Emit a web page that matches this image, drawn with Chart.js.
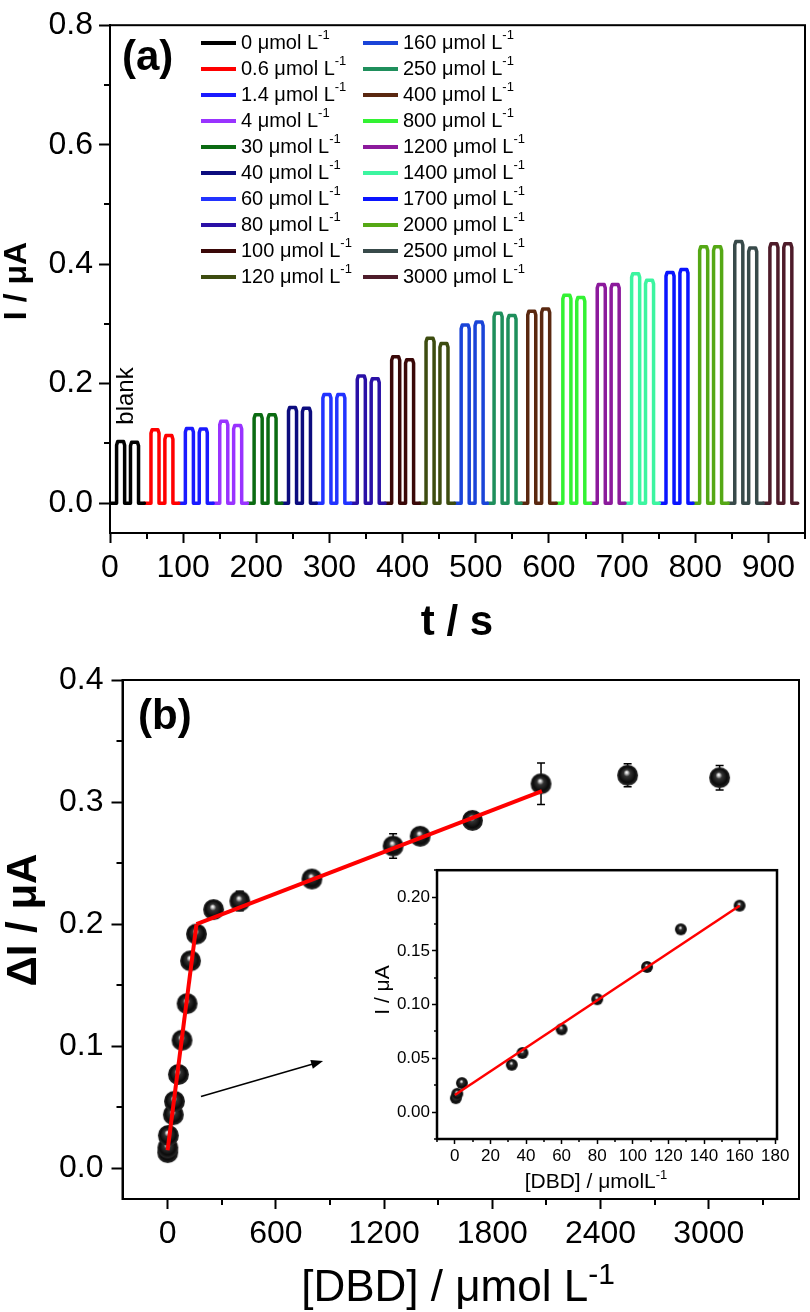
<!DOCTYPE html>
<html>
<head>
<meta charset="utf-8">
<script src="https://cdn.jsdelivr.net/npm/chart.js@4.4.1/dist/chart.umd.min.js"></script>
<style>
  body { margin: 0; background: #fff; }
  #wrap { position: relative; width: 810px; height: 1312px; }
  canvas { position: absolute; }
</style>
</head>
<body>
<div id="wrap">
  <canvas id="chart_a" width="810" height="650" style="left:0;top:0"></canvas>
  <canvas id="chart_b" width="810" height="662" style="left:0;top:650px"></canvas>
  <canvas id="chart_inset" width="425" height="345" style="left:370px;top:858px"></canvas>
</div>
<script>
"use strict";
const FONT = "'Liberation Sans', Arial, sans-serif";

// ---- (a) amperometric trace ----
const concLabels = ["0", "0.6", "1.4", "4", "30", "40", "60", "80", "100", "120",
  "160", "250", "400", "800", "1200", "1400", "1700", "2000", "2500", "3000"];
const traceColors = ["#000000", "#ff0000", "#1a1aff", "#9933ff", "#0b6b12", "#0c0c7e",
  "#2233ff", "#2a10a6", "#3a0808", "#3d4c10", "#1a44d8", "#1f8f5c", "#5a2810",
  "#33f233", "#8c1a9c", "#3cf5a0", "#0a14ff", "#55a815", "#384a4a", "#4e1c2a"];
const segStart = [0, 47, 94, 141, 188, 235, 282, 329, 376, 423,
  471, 516, 562, 610, 657, 704, 751, 797, 845, 893];
const traceEnd = 940;
const pulseEdges = [9, 20, 28, 39]; // s after segment start: on, off, on, off
const peak1 = [0.103, 0.123, 0.125, 0.137, 0.148, 0.160, 0.182, 0.213, 0.245, 0.276,
  0.298, 0.318, 0.321, 0.348, 0.366, 0.384, 0.386, 0.429, 0.438, 0.434];
const peak2 = [0.102, 0.113, 0.124, 0.130, 0.148, 0.159, 0.182, 0.208, 0.240, 0.267,
  0.303, 0.314, 0.325, 0.344, 0.366, 0.373, 0.391, 0.429, 0.427, 0.434];
const aXTicks = [0, 100, 200, 300, 400, 500, 600, 700, 800, 900];
const aYTicks = [0, 0.2, 0.4, 0.6, 0.8];

// ---- (b) calibration ----
const bConc = [0.6, 1.4, 4, 32, 38, 60, 80, 108, 127, 160, 255, 400, 800, 1250, 1400, 1690, 2070, 2550, 3060];
const bDeltaI = [0.013, 0.017, 0.027, 0.044, 0.055, 0.077, 0.105, 0.135, 0.170, 0.192,
  0.212, 0.219, 0.237, 0.264, 0.272, 0.285, 0.315, 0.322, 0.320];
const bErr = [0.003, 0.002, 0.002, 0.002, 0.002, 0.003, 0.003, 0.003, 0.003, 0.003,
  0.004, 0.008, 0.004, 0.010, 0.004, 0.004, 0.017, 0.0095, 0.010];
const fitLowX = [0, 160];
const fitLowY = [0.015, 0.200];
const fitHighX = [160, 2075];
const fitHighY = [0.200, 0.309];
const bXTicks = [0, 600, 1200, 1800, 2400, 3000];
const bYTicks = [0, 0.1, 0.2, 0.3, 0.4];
const arrowFrom = [185, 0.059];
const arrowTo = [862, 0.088];

// ---- inset ----
const insetCount = 10;
const insetFitX = [0, 160];
const insetFitY = [0.016, 0.192];
const iXTicks = [0, 20, 40, 60, 80, 100, 120, 140, 160, 180];
const iYTicks = [0, 0.05, 0.10, 0.15, 0.20];

function xy(xs, ys) {
  return xs.map((x, i) => ({ x: x, y: ys[i] }));
}

// one square-ish pulse: rise, rounded top, fall
function pulse(on, off, p) {
  return [
    { x: on, y: 0 }, { x: on, y: p - 0.006 }, { x: on + 1.5, y: p },
    { x: off - 1.5, y: p }, { x: off, y: p - 0.006 }, { x: off, y: 0 }
  ];
}

function tracePoints(i) {
  const s = segStart[i];
  const e = i + 1 < segStart.length ? segStart[i + 1] : traceEnd;
  return [{ x: s, y: 0 }]
    .concat(pulse(s + pulseEdges[0], s + pulseEdges[1], peak1[i]))
    .concat(pulse(s + pulseEdges[2], s + pulseEdges[3], peak2[i]))
    .concat([{ x: e, y: 0 }]);
}

function sphere(r) {
  const c = document.createElement("canvas");
  const d = Math.ceil(2 * r + 2);
  c.width = c.height = d;
  const g = c.getContext("2d");
  const cx = d / 2, cy = d / 2;
  const grad = g.createRadialGradient(cx - r * 0.1, cy - r * 0.3, 0, cx, cy, r);
  grad.addColorStop(0, "#ffffff");
  grad.addColorStop(0.12, "#d0d0d0");
  grad.addColorStop(0.32, "#333333");
  grad.addColorStop(0.75, "#0a0a0a");
  grad.addColorStop(1, "#2c2c2c");
  g.fillStyle = grad;
  g.beginPath();
  g.arc(cx, cy, r, 0, Math.PI * 2);
  g.fill();
  return c;
}

function axis(min, max, ticks, digits, size, tickLen, pad, tickW, fit) {
  return {
    type: "linear", min: min, max: max,
    afterBuildTicks: s => { s.ticks = ticks.map(v => ({ value: v })); },
    afterFit: fit,
    border: { display: true, color: "#000", width: tickW },
    grid: { display: true, drawOnChartArea: false, drawTicks: true, tickLength: tickLen, tickWidth: tickW, tickColor: "#000", color: "#000" },
    ticks: { color: "#000", font: { family: FONT, size: size }, padding: pad, maxRotation: 0, autoSkip: false,
      callback: v => Number(v).toFixed(digits) }
  };
}

function textSup(ctx, base, sup, x, y, size, supSize, rise, weight, align) {
  ctx.font = weight + " " + size + "px " + FONT;
  const w1 = ctx.measureText(base).width;
  ctx.font = weight + " " + supSize + "px " + FONT;
  const w2 = ctx.measureText(sup).width;
  let x0 = x;
  if (align === "center") x0 = x - (w1 + w2) / 2;
  ctx.textAlign = "left";
  ctx.font = weight + " " + size + "px " + FONT;
  ctx.fillText(base, x0, y);
  ctx.font = weight + " " + supSize + "px " + FONT;
  ctx.fillText(sup, x0 + w1, y - rise);
}

// rotated text, (x, y) = baseline position, centred along the text
function vText(ctx, txt, x, y, font) {
  ctx.save();
  ctx.translate(x, y);
  ctx.rotate(-Math.PI / 2);
  ctx.font = font;
  ctx.textAlign = "center";
  ctx.textBaseline = "alphabetic";
  ctx.fillText(txt, 0, 0);
  ctx.restore();
}

// frame + minor ticks (minor step is half of major step on every axis here)
const framePlugin = {
  id: "frame",
  afterDraw(chart, args, o) {
    const { ctx, chartArea: a, scales } = chart;
    ctx.save();
    ctx.strokeStyle = "#000";
    ctx.lineWidth = o.lineWidth;
    ctx.strokeRect(a.left, a.top, a.right - a.left, a.bottom - a.top);
    ctx.lineWidth = o.tickWidth;
    ctx.beginPath();
    const xs = scales.x, ys = scales.y;
    for (let v = Math.ceil(xs.min / o.xMinor) * o.xMinor; v <= xs.max + 1e-9; v += o.xMinor) {
      const k = v / o.xMinor;
      if (Math.abs(k - Math.round(k)) > 1e-6 || Math.round(k) % 2 === 0) continue;
      const px = Math.round(xs.getPixelForValue(v));
      ctx.moveTo(px, a.bottom);
      ctx.lineTo(px, a.bottom + o.minorLen);
    }
    for (let v = Math.ceil(ys.min / o.yMinor - 1e-6) * o.yMinor; v <= ys.max + 1e-9; v += o.yMinor) {
      const k = Math.round(v / o.yMinor);
      if (k % 2 === 0) continue;
      const py = Math.round(ys.getPixelForValue(v));
      ctx.moveTo(a.left, py);
      ctx.lineTo(a.left - o.minorLen, py);
    }
    ctx.stroke();
    ctx.restore();
  }
};

const errorBarPlugin = {
  id: "errorBars",
  beforeDatasetsDraw(chart) {
    const { ctx, scales } = chart;
    chart.data.datasets.forEach(ds => {
      if (!ds.errors) return;
      ctx.save();
      ctx.strokeStyle = "#000";
      ctx.lineWidth = 1.5;
      ds.data.forEach((p, i) => {
        const px = scales.x.getPixelForValue(p.x);
        const y1 = scales.y.getPixelForValue(p.y + ds.errors[i]);
        const y2 = scales.y.getPixelForValue(p.y - ds.errors[i]);
        ctx.beginPath();
        ctx.moveTo(px, y1); ctx.lineTo(px, y2);
        ctx.moveTo(px - 4, y1); ctx.lineTo(px + 4, y1);
        ctx.moveTo(px - 4, y2); ctx.lineTo(px + 4, y2);
        ctx.stroke();
      });
      ctx.restore();
    });
  }
};

// ---------- chart (a) ----------
const aLabelsPlugin = {
  id: "aLabels",
  afterDraw(chart) {
    const ctx = chart.ctx;
    ctx.save();
    ctx.fillStyle = "#000";
    ctx.textBaseline = "middle";
    chart.data.datasets.forEach((ds, i) => {
      const col = Math.floor(i / 10), row = i % 10;
      const lx = col ? 363 : 201;
      const y = 43 + row * 26;
      ctx.strokeStyle = ds.borderColor;
      ctx.lineWidth = 4;
      ctx.beginPath();
      ctx.moveTo(lx, y); ctx.lineTo(lx + 35, y);
      ctx.stroke();
      textSup(ctx, ds.label + " \u03bcmol L", "-1", lx + 40, y, 20, 13, 8, "normal", "left");
    });
    ctx.textAlign = "left";
    ctx.font = "bold 42px " + FONT;
    ctx.fillText("(a)", 122, 58);
    vText(ctx, "blank", 133, 396, "normal 24px " + FONT);
    vText(ctx, "I / \u03bcA", 26, 281, "bold 32px " + FONT);
    ctx.font = "bold 42px " + FONT;
    ctx.textAlign = "center";
    ctx.textBaseline = "alphabetic";
    ctx.fillText("t / s", 457, 635);
    ctx.restore();
  }
};

new Chart(document.getElementById("chart_a"), {
  type: "scatter",
  data: {
    datasets: concLabels.map((lab, i) => ({
      label: lab,
      data: tracePoints(i),
      showLine: true,
      borderColor: traceColors[i],
      backgroundColor: traceColors[i],
      borderWidth: 3.5,
      borderJoinStyle: "round",
      borderCapStyle: "round",
      pointRadius: 0,
      tension: 0
    }))
  },
  options: {
    responsive: false,
    devicePixelRatio: 1,
    animation: false,
    layout: { padding: { left: 0, top: 14, right: 5, bottom: 0 } },
    plugins: {
      legend: { display: false },
      tooltip: { enabled: false },
      frame: { lineWidth: 2, tickWidth: 2, xMinor: 50, yMinor: 0.1, minorLen: 6 }
    },
    scales: {
      x: axis(0, 950, aXTicks, 0, 32, 10, 6, 2, s => { s.height = 117; }),
      y: axis(-0.05, 0.8, aYTicks, 1, 32, 11, 6, 2, s => { s.width = 110; })
    }
  },
  plugins: [framePlugin, aLabelsPlugin]
});

// ---------- chart (b) ----------
const bLabelsPlugin = {
  id: "bLabels",
  afterDraw(chart) {
    const { ctx, scales } = chart;
    ctx.save();
    ctx.fillStyle = "#000";
    ctx.strokeStyle = "#000";
    // arrow pointing to the inset
    const x1 = scales.x.getPixelForValue(arrowFrom[0]), y1 = scales.y.getPixelForValue(arrowFrom[1]);
    const x2 = scales.x.getPixelForValue(arrowTo[0]), y2 = scales.y.getPixelForValue(arrowTo[1]);
    const ang = Math.atan2(y2 - y1, x2 - x1);
    ctx.lineWidth = 1.5;
    ctx.beginPath();
    ctx.moveTo(x1, y1);
    ctx.lineTo(x2 - 8 * Math.cos(ang), y2 - 8 * Math.sin(ang));
    ctx.stroke();
    ctx.beginPath();
    ctx.moveTo(x2, y2);
    ctx.lineTo(x2 - 12 * Math.cos(ang) + 4.5 * Math.sin(ang), y2 - 12 * Math.sin(ang) - 4.5 * Math.cos(ang));
    ctx.lineTo(x2 - 12 * Math.cos(ang) - 4.5 * Math.sin(ang), y2 - 12 * Math.sin(ang) + 4.5 * Math.cos(ang));
    ctx.closePath();
    ctx.fill();

    ctx.textAlign = "left";
    ctx.textBaseline = "middle";
    ctx.font = "bold 42px " + FONT;
    ctx.fillText("(b)", 138, 67);
    vText(ctx, "\u0394I / \u03bcA", 36, 270, "bold 42px " + FONT);
    ctx.textBaseline = "alphabetic";
    textSup(ctx, "[DBD] / \u03bcmol L", "-1", 458, 651, 44, 30, 17, "normal", "center");
    ctx.restore();
  }
};

new Chart(document.getElementById("chart_b"), {
  type: "scatter",
  data: {
    datasets: [
      {
        label: "fit low",
        data: xy(fitLowX, fitLowY),
        showLine: true, borderColor: "#ff0000", borderWidth: 4, pointRadius: 0, order: 0
      },
      {
        label: "fit high",
        data: xy(fitHighX, fitHighY),
        showLine: true, borderColor: "#ff0000", borderWidth: 4, pointRadius: 0, order: 0
      },
      {
        label: "\u0394I",
        data: xy(bConc, bDeltaI),
        errors: bErr,
        pointStyle: sphere(10.5),
        pointRadius: 10,
        order: 1
      }
    ]
  },
  options: {
    responsive: false,
    devicePixelRatio: 1,
    animation: false,
    layout: { padding: { left: 0, top: 30, right: 2, bottom: 0 } },
    plugins: {
      legend: { display: false },
      tooltip: { enabled: false },
      frame: { lineWidth: 2, tickWidth: 2, xMinor: 300, yMinor: 0.05, minorLen: 6 }
    },
    scales: {
      x: axis(-250, 3500, bXTicks, 0, 32, 10, 6, 2, s => { s.height = 113; }),
      y: axis(-0.025, 0.4, bYTicks, 1, 32, 11, 8, 2, s => { s.width = 122.5; })
    }
  },
  plugins: [framePlugin, errorBarPlugin, bLabelsPlugin]
});

// ---------- inset ----------
const insetLabelsPlugin = {
  id: "insetLabels",
  beforeDraw(chart) {
    const { ctx, chartArea: a } = chart;
    ctx.save();
    ctx.fillStyle = "#fff";
    ctx.fillRect(a.left, a.top, a.right - a.left, a.bottom - a.top);
    ctx.restore();
  },
  afterDraw(chart) {
    const ctx = chart.ctx;
    ctx.save();
    ctx.fillStyle = "#000";
    vText(ctx, "I / \u03bcA", 19, 132, "normal 21px " + FONT);
    ctx.textBaseline = "alphabetic";
    textSup(ctx, "[DBD] / \u03bcmolL", "-1", 226, 330, 21, 13, 9, "normal", "center");
    ctx.restore();
  }
};

new Chart(document.getElementById("chart_inset"), {
  type: "scatter",
  data: {
    datasets: [
      {
        label: "fit",
        data: xy(insetFitX, insetFitY),
        showLine: true, borderColor: "#ff0000", borderWidth: 2.5, pointRadius: 0, order: 0
      },
      {
        label: "I",
        data: xy(bConc.slice(0, insetCount), bDeltaI.slice(0, insetCount)),
        pointStyle: sphere(6),
        pointRadius: 6,
        order: 1
      }
    ]
  },
  options: {
    responsive: false,
    devicePixelRatio: 1,
    animation: false,
    layout: { padding: { left: 0, top: 10, right: 18, bottom: 0 } },
    plugins: {
      legend: { display: false },
      tooltip: { enabled: false },
      frame: { lineWidth: 2.5, tickWidth: 1.5, xMinor: 10, yMinor: 0.025, minorLen: 3 }
    },
    scales: {
      x: axis(-10, 181, iXTicks, 0, 17, 5, 2, 1.5, s => { s.height = 64; }),
      y: axis(-0.025, 0.225, iYTicks, 2, 17, 5, 2, 1.5, s => { s.width = 67; })
    }
  },
  plugins: [framePlugin, insetLabelsPlugin]
});
</script>
</body>
</html>
